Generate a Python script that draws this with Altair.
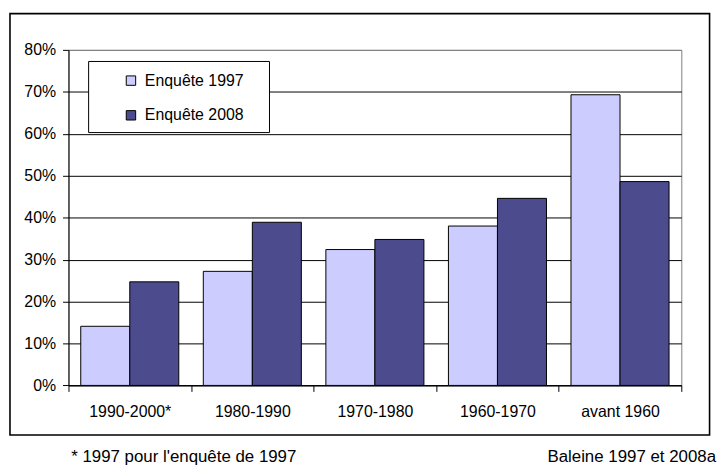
import altair as alt
import pandas as pd

categories = ["1990-2000*", "1980-1990", "1970-1980", "1960-1970", "avant 1960"]
series = ["Enquête 1997", "Enquête 2008"]
values_1997 = [0.141, 0.272, 0.324, 0.380, 0.693]
values_2008 = [0.247, 0.389, 0.348, 0.446, 0.486]
colors = ["#CCCCFF", "#4B4B8E"]
y_ticks = [0, 0.1, 0.2, 0.3, 0.4, 0.5, 0.6, 0.7, 0.8]
note_left = "* 1997 pour l'enquête de 1997"
note_right = "Baleine 1997 et 2008a"

rows = []
for c, a, b in zip(categories, values_1997, values_2008):
    rows.append({"cat": c, "serie": series[0], "val": a})
    rows.append({"cat": c, "serie": series[1], "val": b})
df = pd.DataFrame(rows)

FONT = "Liberation Sans"
W, H = 618, 338.4

bars = alt.Chart(df).mark_bar(stroke="black", strokeWidth=1).encode(
    x=alt.X("cat:N", sort=categories, title=None,
            scale=alt.Scale(paddingInner=0, paddingOuter=0),
            axis=alt.Axis(labelAngle=0, tickBand="extent", tickSize=6, labelPadding=12,
                          labelFontSize=16, labelFont=FONT, labelColor="black",
                          domainColor="black", tickColor="black", grid=False)),
    xOffset=alt.XOffset("serie:N", sort=series,
                        scale=alt.Scale(paddingOuter=0.25, paddingInner=0)),
    y=alt.Y("val:Q", title=None,
            scale=alt.Scale(domain=[0, 0.8], nice=False),
            axis=alt.Axis(values=y_ticks, format=".0%", tickSize=6, labelPadding=7,
                          labelFontSize=16, labelFont=FONT, labelColor="black",
                          domainColor="black", tickColor="black",
                          gridColor=alt.condition("datum.value >= 0.79", alt.value("#808080"), alt.value("black")),
                          gridWidth=1)),
    color=alt.Color("serie:N", sort=series,
                    scale=alt.Scale(domain=series, range=colors),
                    legend=alt.Legend(orient="none", legendX=55, legendY=23, title=None,
                                      symbolType="square", symbolSize=90,
                                      symbolStrokeColor="black", symbolStrokeWidth=1,
                                      symbolOpacity=1, labelFontSize=16, labelFont=FONT,
                                      labelColor="black", rowPadding=19, labelOffset=6,
                                      padding=0)),
)

frame = alt.Chart(pd.DataFrame({"k": [0]})).mark_rect(
    fill=None, stroke="black", strokeWidth=1.6, clip=False
).encode(x=alt.value(-59), x2=alt.value(646.5), y=alt.value(-36.6), y2=alt.value(388.4))

legend_box = alt.Chart(pd.DataFrame({"k": [0]})).mark_rect(
    fill="white", stroke="black", strokeWidth=1
).encode(x=alt.value(20.3), x2=alt.value(202.7), y=alt.value(11.7), y2=alt.value(83.4))

left_note = alt.Chart(pd.DataFrame({"t": [note_left]})).mark_text(
    align="left", baseline="middle", font=FONT, fontSize=17, color="black"
).encode(text="t:N", x=alt.value(2.7), y=alt.value(410.5))

right_note = alt.Chart(pd.DataFrame({"t": [note_right]})).mark_text(
    align="right", baseline="middle", font=FONT, fontSize=17, color="black"
).encode(text="t:N", x=alt.value(653), y=alt.value(410.5))

chart = alt.layer(bars, legend_box, frame, left_note, right_note).properties(
    width=W, height=H,
    autosize=alt.AutoSizeParams(type="none"),
    padding={"left": 61, "top": 40.3, "right": 36, "bottom": 79},
    background="white",
).configure_view(stroke="#808080", strokeWidth=1)

chart.save("out.html", embed_options={"renderer": "svg", "actions": False})
